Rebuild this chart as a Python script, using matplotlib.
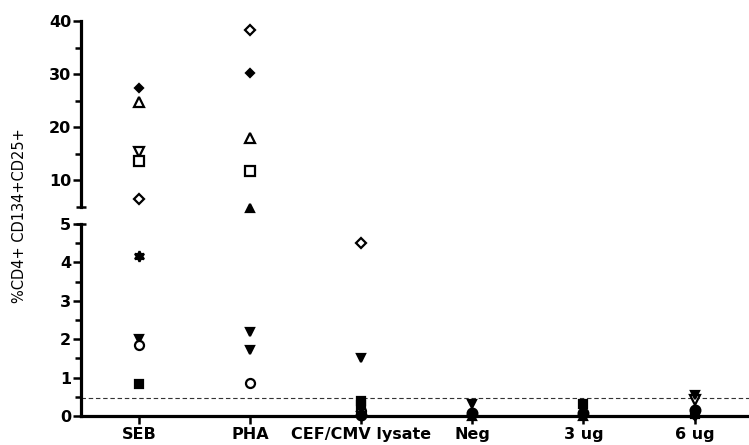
import numpy as np
import matplotlib
matplotlib.use("Agg")
import matplotlib.pyplot as plt
import matplotlib.transforms as mtransforms

nan = np.nan

categories = ["SEB", "PHA", "CEF/CMV lysate", "Neg", "3 ug", "6 ug"]
cutoff = 0.48

# one array per symbol, value per category (nan = not shown)
filled_diamond = [27.3, 30.2, nan, 0.02, 0.03, 0.0]
open_tri_up = [24.7, 18.0, nan, nan, nan, nan]
open_tri_down = [15.4, nan, nan, nan, nan, 0.42]
open_square = [13.7, 11.8, nan, nan, nan, nan]
open_diamond = [6.5, 38.4, 4.5, nan, nan, nan]
filled_tri_up = [nan, 4.8, nan, 0.0, 0.0, nan]
filled_star = [4.17, nan, nan, nan, nan, nan]
filled_tri_down = [2.0, 2.2, 1.52, 0.3, nan, 0.55]
filled_tri_down_b = [nan, 1.72, 0.0, nan, nan, nan]
open_circle = [1.85, 0.86, 0.12, nan, nan, nan]
filled_square = [0.83, nan, 0.38, nan, 0.3, 0.05]
filled_square_b = [nan, nan, 0.28, nan, nan, nan]
filled_circle = [nan, nan, 0.03, 0.08, 0.08, 0.15]

series = [
    (filled_diamond, "D", True, 4.5),
    (open_tri_up, "^", False, 6.5),
    (open_tri_down, "v", False, 6.5),
    (open_square, "s", False, 6.5),
    (open_diamond, "D", False, 5),
    (filled_tri_up, "^", True, 6),
    (filled_star, (6, 1, 0), True, 7.5),
    (filled_tri_down, "v", True, 6),
    (filled_tri_down_b, "v", True, 6),
    (open_circle, "o", False, 6.5),
    (filled_square, "s", True, 5.5),
    (filled_square_b, "s", True, 5.5),
    (filled_circle, "o", True, 7),
]

W, H = 749, 445
fig = plt.figure(figsize=(W / 100, H / 100), dpi=100)
left = 81 / W
ax_lo = fig.add_axes([left, (H - 416) / H, 1 - left, (416 - 224) / H])
ax_hi = fig.add_axes([left, (H - 207) / H, 1 - left, (207 - 21) / H])

x = np.arange(1, len(categories) + 1)
split = 4.7
for vals, mk, filled, ms in series:
    v = np.array(vals, dtype=float)
    kw = dict(marker=mk, ls="none", ms=ms, mec="black", mew=1.6,
              mfc="black" if filled else "white", clip_on=False, zorder=3)
    lo = v < split
    hi = v >= split
    ax_lo.plot(x[lo], v[lo], **kw)
    ax_hi.plot(x[hi], v[hi], **kw)

ax_lo.axhline(cutoff, color="#333333", lw=0.8, ls=(0, (4, 2.5)), zorder=1)

for ax in (ax_lo, ax_hi):
    ax.set_xlim(0.48, 6.49)
    for s in ("top", "right"):
        ax.spines[s].set_visible(False)
    ax.spines["left"].set_linewidth(2.3)
    ax.tick_params(axis="y", which="major", direction="out", length=6,
                   width=1.8, pad=1, labelsize=11.5)
    ax.tick_params(axis="y", which="minor", direction="out", length=4, width=1.8)

ax_lo.set_ylim(0, 5)
ax_lo.set_yticks([0, 1, 2, 3, 4, 5])
ax_lo.set_yticks(np.arange(0.5, 5, 1.0), minor=True)
ax_lo.set_yticklabels(["0", "1", "2", "3", "4", "5"], fontweight="bold")
ax_lo.spines["bottom"].set_linewidth(2.3)
ax_lo.set_xticks(x)
ax_lo.set_xticklabels(categories, fontweight="bold", fontsize=11.5)
ax_lo.tick_params(axis="x", direction="out", length=6, width=1.8, pad=2)

ax_hi.set_ylim(5, 40)
ax_hi.set_yticks([10, 20, 30, 40])
ax_hi.set_yticks([15, 25, 35], minor=True)
ax_hi.set_yticklabels(["10", "20", "30", "40"], fontweight="bold")
ax_hi.spines["bottom"].set_visible(False)
ax_hi.set_xticks([])

# caps at the axis break
for ax, yv in ((ax_hi, 5), (ax_lo, 5)):
    tr = mtransforms.blended_transform_factory(ax.transAxes, ax.transData)
    ax.plot([-0.0075, 0.0075], [yv, yv], color="black", lw=1.8,
            transform=tr, clip_on=False, solid_capstyle="butt")

fig.text(20 / W, 1 - 216 / H, "%CD4+ CD134+CD25+", rotation=90,
         ha="center", va="center", fontsize=10.5)

fig.savefig("out.png", dpi=100)
